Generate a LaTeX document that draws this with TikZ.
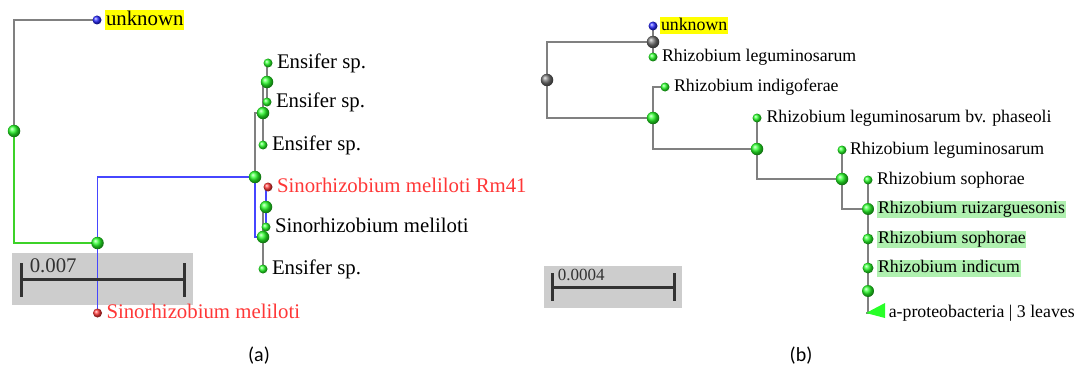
\documentclass[tikz,border=0pt]{standalone}
\usepackage{fontspec}
\setmainfont{Liberation Serif}
\newfontfamily\capfont{Carlito}
\usepackage{tikz}
\usetikzlibrary{positioning, backgrounds}
\definecolor{branchgray}{RGB}{128,128,128}
\definecolor{branchblue}{RGB}{70,70,255}
\definecolor{branchgreen}{RGB}{60,210,40}
\definecolor{nodegreen}{RGB}{40,255,40}
\definecolor{nodeblue}{RGB}{40,40,255}
\definecolor{nodered}{RGB}{255,55,55}
\definecolor{nodegray}{RGB}{115,115,115}
\definecolor{hlyellow}{RGB}{255,255,0}
\definecolor{hlgreen}{RGB}{175,240,175}
\definecolor{scalegray}{RGB}{205,205,205}
\definecolor{bargray}{RGB}{50,50,50}

\begin{document}
\begin{tikzpicture}[x=1pt,y=-1pt,
  forkball/.style={circle,inner sep=0pt,minimum size=12.5pt,ball color=#1},
  forkball/.default=nodegreen,
  leafball/.style={circle,inner sep=0pt,minimum size=9pt,ball color=#1},
  leafball/.default=nodegreen,
  elbow/.style={to path={(\tikztostart.center) |- (\tikztotarget.center)}},
  gbr/.style={draw=branchgray,line width=1.8pt},
  bbr/.style={draw=branchblue,line width=1.8pt},
  lbr/.style={draw=branchgreen,line width=1.8pt},
  namea/.style={inner sep=0pt,inner xsep=0.6pt,text height=15.6pt,text depth=5.2pt,font=\fontsize{20.8}{25}\selectfont},
  nameb/.style={inner sep=0pt,inner xsep=0.6pt,text height=12.8pt,text depth=4.2pt,font=\fontsize{17.8}{21}\selectfont},
  scalebar/.style={draw=bargray,line width=3pt}]
\useasboundingbox (0,0) rectangle (1079,369);

\node[forkball] (a0) at (14,131) {};
\node[leafball=nodeblue] (a1) at (97,20) {};
\node[forkball] (a2) at (97.5,243) {};
\node[forkball] (a3) at (255,177) {};
\node[forkball] (a4) at (263,113) {};
\node[forkball] (a5) at (267,82) {};
\node[leafball] (e1) at (268,63) {};
\node[leafball] (e2) at (267,102) {};
\node[leafball] (e3) at (263,145) {};
\node[forkball] (a6) at (263,237) {};
\node[forkball] (a7) at (266,207) {};
\node[leafball=nodered] (rm) at (268,187) {};
\node[leafball] (sm2) at (266,227) {};
\node[leafball] (e4) at (263,269) {};
\node[leafball=nodered] (sm) at (97.5,313) {};

\node[namea,fill=hlyellow,right=3.5pt of a1] {unknown};
\node[namea,right=3.5pt of e1] {Ensifer sp.};
\node[namea,right=3.5pt of e2] {Ensifer sp.};
\node[namea,right=3.5pt of e3] {Ensifer sp.};
\node[namea,text=nodered,right=3.5pt of rm] {Sinorhizobium meliloti Rm41};
\node[namea,right=3.5pt of sm2] {Sinorhizobium meliloti};
\node[namea,right=3.5pt of e4] {Ensifer sp.};
\node[namea,text=nodered,right=3.5pt of sm] {Sinorhizobium meliloti};

\node[forkball=nodegray] (b0) at (547,80) {};
\node[forkball=nodegray] (b1) at (653,42) {};
\node[leafball=nodeblue] (u) at (653,26) {};
\node[leafball] (l1) at (653,57) {};
\node[forkball] (b2) at (653,118) {};
\node[leafball] (ind) at (665,87) {};
\node[forkball] (b3) at (757,149) {};
\node[leafball] (ph) at (757,118) {};
\node[forkball] (b4) at (842,179) {};
\node[leafball] (l2) at (842,150) {};
\node[forkball,minimum size=12pt] (b5) at (868,209) {};
\node[leafball] (so1) at (868,180) {};
\node[forkball,minimum size=11pt] (so2) at (868,239) {};
\node[forkball,minimum size=11pt] (ic) at (868,268) {};
\node[forkball,minimum size=12pt] (b6) at (868,291) {};
\coordinate (ct) at (866,313);
\fill[nodegreen] (ct) -- ++(19,-10) -- ++(0,15) -- cycle;

\node[nameb,fill=hlyellow,right=2.5pt of u] {unknown};
\node[nameb,right=3.5pt of l1] {Rhizobium leguminosarum};
\node[nameb,right=3.5pt of ind] {Rhizobium indigoferae};
\node[nameb,right=4pt of ph] {Rhizobium leguminosarum bv. phaseoli};
\node[nameb,right=2.5pt of l2] {Rhizobium leguminosarum};
\node[nameb,right=3.5pt of so1] {Rhizobium sophorae};
\node[nameb,fill=hlgreen,right=3pt of b5] {Rhizobium ruizarguesonis};
\node[nameb,fill=hlgreen,right=3.5pt of so2] {Rhizobium sophorae};
\node[nameb,fill=hlgreen,right=3.5pt of ic] {Rhizobium indicum};
\node[nameb,anchor=west] (clade) at (888,313) {a-proteobacteria | 3 leaves};

\begin{scope}[on background layer]
\fill[scalegray] (12,253) rectangle (193,305);
\fill[scalegray] (544,266) rectangle (682,308);
\path[elbow]
(a0) edge[gbr] (a1) edge[lbr] (a2)
(a2) edge[bbr] (a3) edge[bbr] (sm)
(a3) edge[gbr] (a4) edge[bbr] (a6)
(a4) edge[gbr] (a5) edge[gbr] (e3)
(a5) edge[gbr] (e1) edge[gbr] (e2)
(a6) edge[gbr] (a7) edge[gbr] (e4)
(a7) edge[bbr] (rm) edge[bbr] (sm2);
\path[elbow,gbr]
(b0) edge (b1) edge (b2)
(b1) edge (u) edge (l1)
(b2) edge (ind) edge (b3)
(b3) edge (ph) edge (b4)
(b4) edge (l2) edge (b5)
(b5) edge (so1) edge (so2)
(so2) edge (ic)
(ic) edge (b6)
(b6) edge (ct);
\end{scope}

\draw[scalebar] (21,263) -- (21,297) (21,279) -- (184,279) (184,263) -- (184,297);
\node[namea,anchor=west,text=bargray] (sa) at (29,267) {0.007};
\draw[scalebar] (552,273) -- (552,301) (552,287) -- (674,287) (674,273) -- (674,301);
\node[nameb,anchor=west,text=bargray,font=\fontsize{17}{20}\selectfont] (sb) at (557,276) {0.0004};

\node[font=\capfont\fontsize{20}{24}\selectfont] (capa) at (259,356) {(a)};
\node[font=\capfont\fontsize{20}{24}\selectfont] (capb) at (801,356) {(b)};
\end{tikzpicture}
\end{document}
